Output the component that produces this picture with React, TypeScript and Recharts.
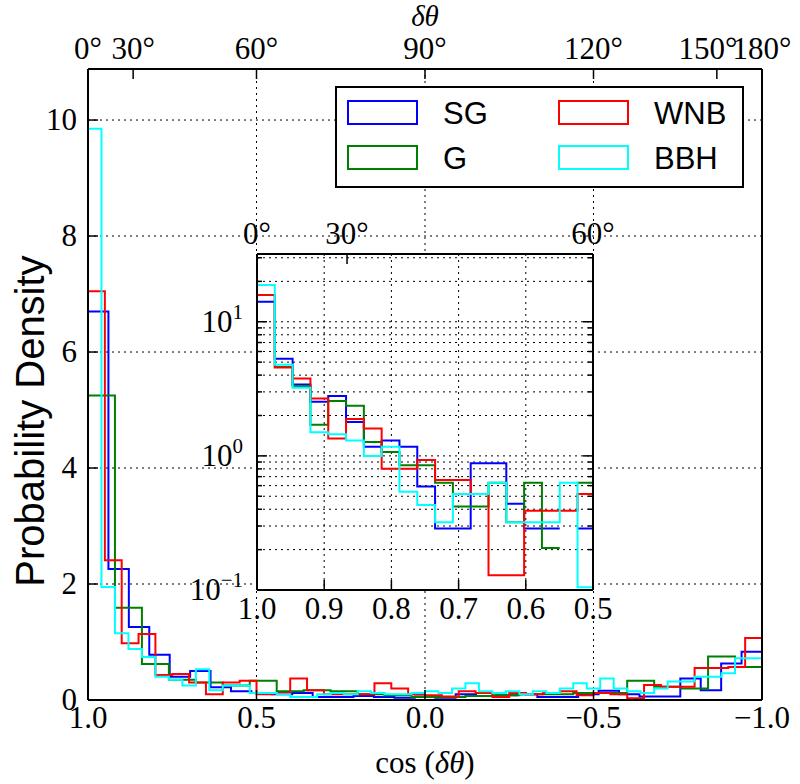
import React from 'react';
import { LineChart, Line, XAxis, YAxis, CartesianGrid, Legend } from 'recharts';

const SERIF = '"Liberation Serif", "DejaVu Serif", serif';
const SANS = '"Liberation Sans", Arial, sans-serif';

// ---------- data ----------
const seriesNames = ['SG', 'G', 'WNB', 'BBH'];
const seriesColors = ['#0000ff', '#008000', '#ff0000', '#00ffff'];

// main panel: probability density per bin, bins equally spaced in cos from 1.0 to -1.0
const sgMain = [6.7, 2.26, 1.26, 0.78, 0.4, 0.5, 0.22, 0.15, 0.12, 0.1, 0.12, 0.05, 0.05, 0.07, 0.05, 0.04, 0.06, 0.04, 0.1, 0.12, 0.08, 0.1, 0.05, 0.05, 0.1, 0.16, 0.1, 0.06, 0.06, 0.37, 0.17, 0.63, 0.83];
const gMain = [5.25, 1.59, 0.62, 0.35, 0.3, 0.25, 0.33, 0.15, 0.17, 0.15, 0.1, 0.08, 0.05, 0.05, 0.07, 0.08, 0.1, 0.1, 0.12, 0.12, 0.33, 0.23, 0.2, 0.75, 0.57];
const wnbMain = [7.05, 2.41, 0.98, 1.14, 0.43, 0.45, 0.3, 0.1, 0.3, 0.33, 0.1, 0.12, 0.37, 0.17, 0.1, 0.1, 0.1, 0.29, 0.2, 0.1, 0.08, 0.06, 0.15, 0.12, 0.05, 0.12, 0.1, 0.12, 0.15, 0.08, 0.12, 0.1, 0.03, 0.26, 0.23, 0.23, 0.55, 0.55, 0.57, 1.07];
const bbhMain = [9.85, 1.95, 1.15, 0.88, 0.74, 0.4, 0.35, 0.25, 0.53, 0.17, 0.25, 0.25, 0.12, 0.12, 0.1, 0.05, 0.05, 0.1, 0.12, 0.1, 0.15, 0.12, 0.1, 0.1, 0.12, 0.15, 0.12, 0.2, 0.29, 0.15, 0.12, 0.15, 0.1, 0.15, 0.12, 0.2, 0.29, 0.2, 0.37, 0.2, 0.15, 0.12, 0.2, 0.32, 0.32, 0.4, 0.4, 0.46, 0.72, 0.72];

// inset: finer bins starting at cos = 1.0 (null = empty bin)
const insetBinWidth = 0.0265;
const sgInset = [14.1, 5.3, 3.4, 2.53, 2.8, 1.79, 1.17, 1.3, 1.17, 0.59, 0.287, 0.287, 0.88, 0.88, 0.44, 0.287, 0.287, null, 0.287];
const gInset = [15.8, 4.6, 3.3, 1.71, 2.57, 2.36, 1.27, 1.07, 0.85, 0.85, 0.63, 0.42, 0.42, 0.63, 0.32, 0.63, 0.206, null, 0.63];
const wnbInset = [15.8, 4.56, 3.78, 2.68, 1.35, 1.88, 1.6, 0.8, 0.8, 0.93, 0.66, 0.66, 0.52, 0.129, 0.129, 0.39, 0.39, 0.39, 0.52];
const bbhInset = [18.8, 4.78, 3.22, 1.5, 1.45, 1.3, 1.0, 1.17, 0.54, 0.43, 0.32, 0.52, 0.52, 0.63, 0.32, 0.32, 0.32, 0.63, 0.105];

// ticks
const mainXTicks = [1, 0.5, 0, -0.5, -1];
const mainXTickLabels = ['1.0', '0.5', '0.0', '\u22120.5', '\u22121.0'];
const mainYTicks = [0, 2, 4, 6, 8, 10];
const mainYMax = 10.88;
const degreeTicks = [0, 30, 60, 90, 120, 150, 180];
const insetDegreeTicks = [0, 30, 60];
const insetXTicks = [1, 0.9, 0.8, 0.7, 0.6, 0.5];
const insetXTickLabels = ['1.0', '0.9', '0.8', '0.7', '0.6', '0.5'];
const insetYTicks = [0.1, 0.2, 0.3, 0.4, 0.5, 0.6, 0.7, 0.8, 0.9, 1, 2, 3, 4, 5, 6, 7, 8, 9, 10, 20, 30];
const insetYMajor = [0.1, 1, 10];
const insetYMajorExp = ['\u22121', '0', '1'];
const insetYDomain = [0.1, 32];

// ---------- helpers ----------
const degToCos = (d: number) => Math.round(Math.cos((d * Math.PI) / 180) * 1e6) / 1e6;
const degLabel = (d: number) => `${d}\u00b0`;

function mainSteps(vals: number[]) {
  const n = vals.length;
  const w = 2 / n;
  const pts: { x: number; y: number }[] = [{ x: 1, y: 0 }];
  vals.forEach((v, i) => pts.push({ x: 1 - i * w, y: v }));
  pts.push({ x: -1, y: vals[n - 1] });
  pts.push({ x: -1, y: 0 });
  return pts;
}

function insetSteps(vals: (number | null)[]) {
  const n = vals.length;
  const edge = (i: number) => 1 - i * insetBinWidth;
  const pts: { x: number; y: number | null }[] = [];
  for (let i = 0; i < n; i++) {
    const v = vals[i];
    if (v == null) {
      if (i > 0 && vals[i - 1] != null) pts.push({ x: edge(i), y: vals[i - 1] });
      pts.push({ x: edge(i), y: null });
    } else {
      pts.push({ x: edge(i), y: v });
    }
  }
  if (vals[n - 1] != null) pts.push({ x: edge(n), y: vals[n - 1] });
  return pts;
}

const mainSeries = [sgMain, gMain, wnbMain, bbhMain].map(mainSteps);
const insetSeries = [sgInset, gInset, wnbInset, bbhInset].map(insetSteps);
const mainTopTicks = degreeTicks.map(degToCos);
const insetTopTicks = insetDegreeTicks.map(degToCos);

// ---------- layout constants ----------
const ML = 88, MR = 762, MT = 69, MB = 700;
const INSET_X = 180, INSET_Y = 200, INSET_W = 440, INSET_H = 440;
const IL = 77, IR = 413, IT = 54, IB = 390;
const TICK = 10;
const spine = { stroke: '#000', strokeWidth: 2 };

// ---------- tick renderers ----------
const MainBottomTick = (p: any) => {
  const x = p.x;
  const i = mainXTicks.indexOf(p.payload.value);
  return (
    <g>
      <line x1={x} x2={x} y1={MB} y2={MB - TICK} stroke="#000" strokeWidth={1.5} />
      <text x={x} y={728} textAnchor="middle" fontFamily={SERIF} fontSize={31} fill="#000">
        {mainXTickLabels[i]}
      </text>
    </g>
  );
};

const MainTopTick = (p: any) => {
  const x = p.x;
  const i = mainTopTicks.indexOf(p.payload.value);
  const deg = i >= 0 ? degreeTicks[i] : null;
  // the 150° label sits slightly left of its tick so it abuts the 180° label
  const dx = deg === 150 ? -9 : 0;
  return (
    <g>
      <line x1={x} x2={x} y1={MT} y2={MT + TICK} stroke="#000" strokeWidth={1.5} />
      <text x={x + dx} y={59} textAnchor="middle" fontFamily={SERIF} fontSize={31} fill="#000">
        {deg != null ? degLabel(deg) : ''}
      </text>
    </g>
  );
};

const MainLeftTick = (p: any) => {
  const y = p.y;
  return (
    <g>
      <line x1={ML} x2={ML + TICK} y1={y} y2={y} stroke="#000" strokeWidth={1.5} />
      <text x={ML - 11} y={y + 10} textAnchor="end" fontFamily={SERIF} fontSize={31} fill="#000">
        {String(p.payload.value)}
      </text>
    </g>
  );
};

const MainRightTick = (p: any) => {
  const y = p.y;
  return <line x1={MR} x2={MR - TICK} y1={y} y2={y} stroke="#000" strokeWidth={1.5} />;
};

const InsetBottomTick = (p: any) => {
  const x = p.x;
  const i = insetXTicks.indexOf(p.payload.value);
  return (
    <g>
      <line x1={x} x2={x} y1={IB} y2={IB - TICK} stroke="#000" strokeWidth={1.5} />
      <text x={x} y={419} textAnchor="middle" fontFamily={SERIF} fontSize={31} fill="#000">
        {insetXTickLabels[i]}
      </text>
    </g>
  );
};

const InsetTopTick = (p: any) => {
  const x = p.x;
  const i = insetTopTicks.indexOf(p.payload.value);
  return (
    <g>
      <line x1={x} x2={x} y1={IT} y2={IT + TICK} stroke="#000" strokeWidth={1.5} />
      <text x={x} y={44} textAnchor="middle" fontFamily={SERIF} fontSize={31} fill="#000">
        {i >= 0 ? degLabel(insetDegreeTicks[i]) : ''}
      </text>
    </g>
  );
};

const InsetLeftTick = (p: any) => {
  const y = p.y;
  const mi = insetYMajor.indexOf(p.payload.value);
  const len = mi >= 0 ? TICK : 5;
  return (
    <g>
      <line x1={IL} x2={IL + len} y1={y} y2={y} stroke="#000" strokeWidth={1.5} />
      {mi >= 0 && (
        <text x={IL - 14} y={y + 10} textAnchor="end" fontFamily={SERIF} fontSize={31} fill="#000">
          10
          <tspan dy={-13} fontSize={21}>
            {insetYMajorExp[mi]}
          </tspan>
        </text>
      )}
    </g>
  );
};

const InsetRightTick = (p: any) => {
  const y = p.y;
  const len = insetYMajor.indexOf(p.payload.value) >= 0 ? TICK : 5;
  return <line x1={IR} x2={IR - len} y1={y} y2={y} stroke="#000" strokeWidth={1.5} />;
};

// ---------- legend ----------
const LegendBox = (props: any) => {
  const payload = [...(props.payload || [])].sort(
    (a: any, b: any) => seriesNames.indexOf(a.value) - seriesNames.indexOf(b.value)
  );
  return (
    <svg width={410} height={103} style={{ display: 'block' }}>
      <rect x={1} y={1} width={407} height={100} fill="#fff" stroke="#000" strokeWidth={2} />
      {payload.map((entry: any, i: number) => {
        const col = Math.floor(i / 2);
        const row = i % 2;
        const hx = 13 + col * 211;
        const hy = 15 + row * 45;
        return (
          <g key={entry.value}>
            <rect x={hx} y={hy} width={69} height={23} fill="none" stroke={entry.color} strokeWidth={2} />
            <text x={hx + 95} y={hy + 23} fontFamily={SANS} fontSize={31} fill="#000">
              {entry.value}
            </text>
          </g>
        );
      })}
    </svg>
  );
};

const AxisTitles = () => (
  <g>
    <text x={425} y={773} textAnchor="middle" fontFamily={SERIF} fontSize={31} fill="#000">
      cos (<tspan fontStyle="italic">δθ</tspan>)
    </text>
    <text x={425} y={26} textAnchor="middle" fontFamily={SERIF} fontStyle="italic" fontSize={29} fill="#000">
      δθ
    </text>
  </g>
);

export default function App() {
  return (
    <div style={{ position: 'absolute', left: 0, top: 0, width: 800, height: 784, background: '#fff' }}>
      <div style={{ position: 'absolute', left: 0, top: 0 }}>
        <LineChart width={800} height={784} margin={{ top: 39, right: 28, bottom: 54, left: 48 }}>
          <CartesianGrid stroke="#000" strokeDasharray="2 4" strokeWidth={1} />
          <XAxis
            xAxisId={0}
            dataKey="x"
            type="number"
            domain={[-1, 1]}
            reversed
            ticks={mainXTicks}
            interval={0}
            height={30}
            orientation="bottom"
            tickLine={false}
            axisLine={spine}
            tick={(p: any) => <MainBottomTick {...p} />}
            label={() => <AxisTitles />}
          />
          <XAxis
            xAxisId="top"
            dataKey="x"
            type="number"
            domain={[-1, 1]}
            reversed
            allowDataOverflow
            ticks={mainTopTicks}
            interval={0}
            height={30}
            orientation="top"
            tickLine={false}
            axisLine={spine}
            tick={(p: any) => <MainTopTick {...p} />}
          />
          <YAxis
            yAxisId={0}
            type="number"
            domain={[0, mainYMax]}
            ticks={mainYTicks}
            interval={0}
            width={40}
            orientation="left"
            tickLine={false}
            axisLine={spine}
            tick={(p: any) => <MainLeftTick {...p} />}
            label={() => (
              <text
                x={30}
                y={421}
                transform="rotate(-90, 30, 421)"
                textAnchor="middle"
                dominantBaseline="central"
                fontFamily={SANS}
                fontSize={40}
                fill="#000"
              >
                Probability Density
              </text>
            )}
          />
          <YAxis
            yAxisId="right"
            type="number"
            domain={[0, mainYMax]}
            ticks={mainYTicks}
            interval={0}
            width={10}
            orientation="right"
            tickLine={false}
            axisLine={spine}
            tick={(p: any) => <MainRightTick {...p} />}
          />
          <Legend
            layout="horizontal"
            verticalAlign="middle"
            align="center"
            wrapperStyle={{ left: 335, top: 86, width: 410, height: 103 }}
            content={(p: any) => <LegendBox {...p} />}
          />
          {mainSeries.map((d, i) => (
            <Line
              key={seriesNames[i]}
              name={seriesNames[i]}
              data={d}
              dataKey="y"
              type="stepAfter"
              stroke={seriesColors[i]}
              strokeWidth={2}
              dot={false}
              activeDot={false}
              isAnimationActive={false}
            />
          ))}
        </LineChart>
      </div>
      <div style={{ position: 'absolute', left: INSET_X, top: INSET_Y }}>
        <LineChart width={INSET_W} height={INSET_H} margin={{ top: 24, right: 17, bottom: 20, left: 37 }}>
          <CartesianGrid stroke="#000" strokeDasharray="2 4" strokeWidth={1} fill="#fff" />
          <XAxis
            xAxisId={0}
            dataKey="x"
            type="number"
            domain={[0.5, 1]}
            reversed
            allowDataOverflow
            ticks={insetXTicks}
            interval={0}
            height={30}
            orientation="bottom"
            tickLine={false}
            axisLine={spine}
            tick={(p: any) => <InsetBottomTick {...p} />}
          />
          <XAxis
            xAxisId="top"
            dataKey="x"
            type="number"
            domain={[0.5, 1]}
            reversed
            allowDataOverflow
            ticks={insetTopTicks}
            interval={0}
            height={30}
            orientation="top"
            tickLine={false}
            axisLine={spine}
            tick={(p: any) => <InsetTopTick {...p} />}
          />
          <YAxis
            yAxisId={0}
            type="number"
            scale="log"
            domain={insetYDomain}
            allowDataOverflow
            ticks={insetYTicks}
            interval={0}
            width={40}
            orientation="left"
            tickLine={false}
            axisLine={spine}
            tick={(p: any) => <InsetLeftTick {...p} />}
          />
          <YAxis
            yAxisId="right"
            type="number"
            scale="log"
            domain={insetYDomain}
            allowDataOverflow
            ticks={insetYTicks}
            interval={0}
            width={10}
            orientation="right"
            tickLine={false}
            axisLine={spine}
            tick={(p: any) => <InsetRightTick {...p} />}
          />
          {insetSeries.map((d, i) => (
            <Line
              key={seriesNames[i]}
              name={seriesNames[i]}
              data={d}
              dataKey="y"
              type="stepAfter"
              stroke={seriesColors[i]}
              strokeWidth={2}
              dot={false}
              activeDot={false}
              connectNulls={false}
              isAnimationActive={false}
            />
          ))}
        </LineChart>
      </div>
    </div>
  );
}
